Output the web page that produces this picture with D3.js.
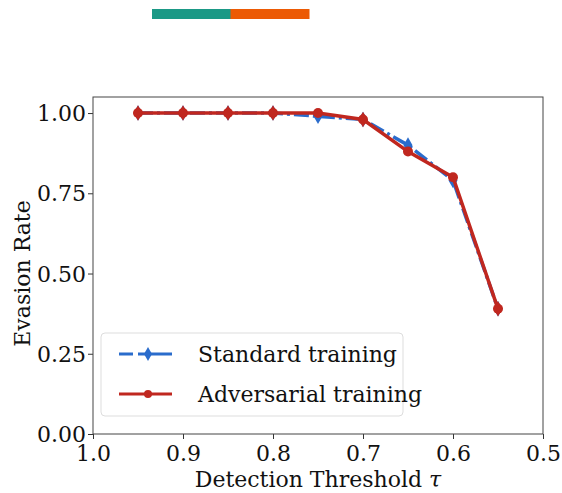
<!DOCTYPE html>
<html>
<head>
<meta charset="utf-8">
<script src="https://cdn.jsdelivr.net/npm/d3@7"></script>
<style>
  body { margin: 0; background: #fff; }
  text { font-family: "DejaVu Serif", "Liberation Serif", serif; fill: #111; }
</style>
</head>
<body>
<svg id="chart" width="562" height="493"></svg>
<script>
// thresholds on the x axis (reversed)
var thresholds = [0.95, 0.9, 0.85, 0.8, 0.75, 0.7, 0.65, 0.6, 0.55];
var standardRate = [1.0, 1.0, 1.0, 1.0, 0.99, 0.98, 0.90, 0.79, 0.39];
var adversarialRate = [1.0, 1.0, 1.0, 1.0, 1.0, 0.98, 0.88, 0.80, 0.39];
var seriesNames = ["Standard training", "Adversarial training"];
var xTicks = [1.0, 0.9, 0.8, 0.7, 0.6, 0.5];
var yTicks = [0, 0.25, 0.5, 0.75, 1.0];
var topBarColors = ["#1b9986", "#ec5a04"];

var svg = d3.select("#chart");
var pLeft = 93, pRight = 543, pTop = 97, pBottom = 434;
var fs = 22;

// decorative strip at the top
var strip = d3.scaleBand().domain(topBarColors).range([152, 309]);
svg.selectAll("rect.strip")
    .data(topBarColors)
    .join("rect")
    .attr("x", d => strip(d))
    .attr("y", 9)
    .attr("width", strip.bandwidth() + 0.5)
    .attr("height", 10)
    .attr("fill", d => d);

var x = d3.scaleLinear().domain([1.0, 0.5]).range([pLeft, pRight]);
var y = d3.scaleLinear().domain([0, 1.05]).range([pBottom, pTop]);

// axes
var xAxis = svg.append("g")
    .attr("transform", `translate(0,${pBottom})`)
    .call(d3.axisBottom(x).tickValues(xTicks).tickFormat(d3.format(".1f")).tickSize(5).tickPadding(2));
var yAxis = svg.append("g")
    .attr("transform", `translate(${pLeft},0)`)
    .call(d3.axisLeft(y).tickValues(yTicks).tickFormat(d3.format(".2f")).tickSize(5).tickPadding(2));
[xAxis, yAxis].forEach(a => {
    a.select(".domain").remove();
    a.selectAll("line").attr("stroke", "#333").attr("stroke-width", 1);
    a.selectAll("text").attr("font-size", fs).attr("fill", "#111")
        .style("font-family", "DejaVu Serif");
});
xAxis.selectAll("text").attr("dy", "0.9em");
yAxis.selectAll("text").attr("dy", "0.35em");

// frame
svg.append("rect")
    .attr("x", pLeft).attr("y", pTop)
    .attr("width", pRight - pLeft).attr("height", pBottom - pTop)
    .attr("fill", "none").attr("stroke", "#444").attr("stroke-width", 1);

// axis labels
svg.append("text")
    .attr("x", (pLeft + pRight) / 2).attr("y", 487)
    .attr("text-anchor", "middle").attr("font-size", fs)
    .html("Detection Threshold <tspan font-style='italic'>τ</tspan>");
svg.append("text")
    .attr("transform", `translate(30,${(pTop + pBottom) / 2 + 8}) rotate(-90)`)
    .attr("text-anchor", "middle").attr("font-size", fs)
    .text("Evasion Rate");

var line = d3.line().x(d => x(d[0])).y(d => y(d[1]));
var stdPts = thresholds.map((t, i) => [t, standardRate[i]]);
var advPts = thresholds.map((t, i) => [t, adversarialRate[i]]);
var blue = "#2a6ccc", red = "#c0271f";
var dashDot = "15,4,3,4";

// standard training: dash-dot blue with diamonds
svg.append("path").datum(stdPts)
    .attr("d", line).attr("fill", "none")
    .attr("stroke", blue).attr("stroke-width", 3.5)
    .attr("stroke-dasharray", dashDot);
var diamond = d3.symbol().type(d3.symbolDiamond).size(70);
svg.selectAll("path.std")
    .data(stdPts).join("path").attr("class", "std")
    .attr("d", diamond)
    .attr("transform", d => `translate(${x(d[0])},${y(d[1])})`)
    .attr("fill", blue);

// adversarial training: solid red with circles
svg.append("path").datum(advPts)
    .attr("d", line).attr("fill", "none")
    .attr("stroke", red).attr("stroke-width", 3.5);
svg.selectAll("circle.adv")
    .data(advPts).join("circle").attr("class", "adv")
    .attr("cx", d => x(d[0])).attr("cy", d => y(d[1]))
    .attr("r", 5).attr("fill", red);
// red diamonds on top where both series coincide
svg.selectAll("path.advd")
    .data(advPts.filter((d, i) => Math.abs(d[1] - standardRate[i]) < 0.005))
    .join("path").attr("class", "advd")
    .attr("d", diamond)
    .attr("transform", d => `translate(${x(d[0])},${y(d[1])})`)
    .attr("fill", red);

// legend
var lg = svg.append("g").attr("transform", "translate(101,333)");
lg.append("rect")
    .attr("width", 302).attr("height", 83).attr("rx", 4)
    .attr("fill", "#fff").attr("fill-opacity", 0.85)
    .attr("stroke", "#ddd").attr("stroke-width", 1);
var items = [
    { name: seriesNames[0], color: blue, dash: "14,5,40", marker: "diamond" },
    { name: seriesNames[1], color: red, dash: null, marker: "circle" }
];
items.forEach((it, i) => {
    var gy = 21 + i * 40;
    lg.append("line")
        .attr("x1", 18).attr("x2", 71).attr("y1", gy).attr("y2", gy)
        .attr("stroke", it.color).attr("stroke-width", 3)
        .attr("stroke-dasharray", it.dash);
    if (it.marker === "diamond") {
        lg.append("path").attr("d", d3.symbol().type(d3.symbolDiamond).size(55))
            .attr("transform", `translate(47,${gy})`).attr("fill", it.color);
    } else {
        lg.append("circle").attr("cx", 47).attr("cy", gy).attr("r", 4).attr("fill", it.color);
    }
    lg.append("text")
        .attr("x", 97).attr("y", gy + 8)
        .attr("font-size", fs)
        .text(it.name);
});
</script>
</body>
</html>
